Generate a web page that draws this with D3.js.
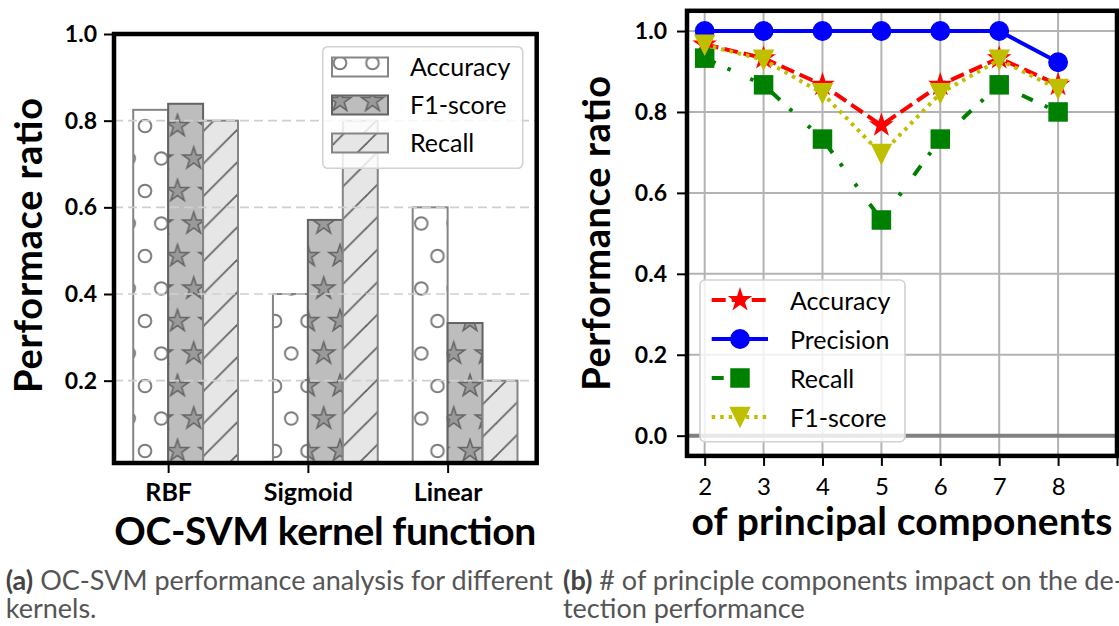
<!DOCTYPE html>
<html><head><meta charset="utf-8">
<script src="https://cdn.jsdelivr.net/npm/d3@7"></script>
<style>
body{margin:0;background:#fff}
svg{display:block}
</style>
</head><body>
<svg id="chart" width="1119" height="626"></svg>
<script>
// ---------- data: left panel (bar chart) ----------
const kernels = ["RBF", "Sigmoid", "Linear"];
const barSeriesNames = ["Accuracy", "F1-score", "Recall"];
const barAccuracy = [0.825, 0.4, 0.6];
const barF1 = [0.839, 0.571, 0.333];
const barRecall = [0.8, 0.8, 0.2];
const leftYTicks = [0.2, 0.4, 0.6, 0.8, 1.0];

// ---------- data: right panel (line chart) ----------
const components = [2, 3, 4, 5, 6, 7, 8];
const lineSeriesNames = ["Accuracy", "Precision", "Recall", "F1-score"];
const lineAccuracy = [0.967, 0.933, 0.867, 0.767, 0.867, 0.933, 0.867];
const linePrecision = [1.0, 1.0, 1.0, 1.0, 1.0, 1.0, 0.923];
const lineRecall = [0.933, 0.867, 0.733, 0.533, 0.733, 0.867, 0.8];
const lineF1 = [0.966, 0.929, 0.846, 0.696, 0.846, 0.929, 0.857];
const rightYTicks = [0.0, 0.2, 0.4, 0.6, 0.8, 1.0];
const rightXTicks = [2, 3, 4, 5, 6, 7, 8, 9];
const rightXTickLabels = ["2", "3", "4", "5", "6", "7", "8", ""];

// ---------- texts ----------
const leftYLabel = "Performace ratio";
const leftXLabel = "OC-SVM kernel function";
const rightYLabel = "Performance ratio";
const rightXLabel = "of principal components";
const captionA = ["(a)", " OC-SVM performance analysis for different", "kernels."];
const captionB = ["(b)", " # of principle components impact on the de-", "tection performance"];

const FONT = "Lato, 'DejaVu Sans', sans-serif";
const svg = d3.select("#chart");
const defs = svg.append("defs");

// ---------- hatch patterns ----------
const TILE = 32.5;
const gridPts = [[0,0],[TILE,0],[0,2*TILE],[TILE,2*TILE],[TILE/2,TILE]];
function starPath(cx, cy, R) {
  const r = R * 0.381966, pts = [];
  for (let k = 0; k < 10; k++) {
    const a = -Math.PI/2 + k*Math.PI/5, rad = k % 2 ? r : R;
    pts.push([cx + rad*Math.cos(a), cy + rad*Math.sin(a)]);
  }
  return "M" + pts.map(p => p.join(",")).join("L") + "Z";
}
const pO = defs.append("pattern").attr("id","hatchO").attr("patternUnits","userSpaceOnUse")
  .attr("x",15).attr("y",61).attr("width",TILE).attr("height",2*TILE);
gridPts.forEach(p => pO.append("circle").attr("cx",p[0]).attr("cy",p[1]).attr("r",6.3)
  .attr("fill","none").attr("stroke","#7c7c7c").attr("stroke-width",2));
const pS = defs.append("pattern").attr("id","hatchStar").attr("patternUnits","userSpaceOnUse")
  .attr("x",15).attr("y",61).attr("width",TILE).attr("height",2*TILE);
gridPts.forEach(p => pS.append("path").attr("d",starPath(p[0],p[1],11.5))
  .attr("fill","#9a9a9a").attr("stroke","#666").attr("stroke-width",1.6).attr("stroke-linejoin","miter"));
const pL = defs.append("pattern").attr("id","hatchSlash").attr("patternUnits","userSpaceOnUse")
  .attr("x",9.5).attr("y",0).attr("width",TILE).attr("height",TILE);
[[-5,TILE+5,TILE+5,-5],[-5,5,5,-5],[TILE-5,TILE+5,TILE+5,TILE-5]].forEach(l =>
  pL.append("line").attr("x1",l[0]).attr("y1",l[1]).attr("x2",l[2]).attr("y2",l[3])
    .attr("stroke","#666").attr("stroke-width",1.8));

function styleAxis(g, size, weight) {
  g.select(".domain").remove();
  g.selectAll(".tick line").attr("stroke","#000").attr("stroke-width",2);
  g.selectAll(".tick text").attr("font-family",FONT).attr("font-size",size)
    .attr("font-weight",weight).attr("fill","#000");
}

// =================== LEFT PANEL ===================
const L = {x0:114, x1:536.7, y0:34, y1:463};
const xL = d3.scaleLinear().domain([-0.3875, 2.6375]).range([L.x0, L.x1]);
const yL = d3.scaleLinear().domain([0.01, 1.0]).range([L.y1, L.y0]);
defs.append("clipPath").attr("id","clipL").append("rect")
  .attr("x",L.x0).attr("y",L.y0).attr("width",L.x1-L.x0).attr("height",L.y1-L.y0);

const barStyles = [
  {values: barAccuracy, off: -0.25, fill: "#ffffff", pat: "hatchO", stroke: "#858585"},
  {values: barF1, off: 0, fill: "#bdbdbd", pat: "hatchStar", stroke: "#636363"},
  {values: barRecall, off: 0.25, fill: "#e6e6e6", pat: "hatchSlash", stroke: "#858585"}
];
const BW = 0.25;
const gBars = svg.append("g").attr("clip-path","url(#clipL)");
barStyles.forEach(s => {
  const g = gBars.append("g");
  const sel = g.selectAll("g").data(s.values).join("g");
  const rx = (d,i) => xL(i + s.off), rw = (d,i) => xL(i + s.off + BW) - xL(i + s.off);
  sel.append("rect").attr("x",rx).attr("width",rw).attr("y",d => yL(d)).attr("height",d => yL(0) - yL(d)).attr("fill",s.fill);
  sel.append("rect").attr("x",rx).attr("width",rw).attr("y",d => yL(d)).attr("height",d => yL(0) - yL(d)).attr("fill",`url(#${s.pat})`);
  sel.append("rect").attr("x",rx).attr("width",rw).attr("y",d => yL(d)).attr("height",d => yL(0) - yL(d))
    .attr("fill","none").attr("stroke",s.stroke).attr("stroke-width",2);
});
// grid (drawn above bars)
svg.append("g").selectAll("line").data(leftYTicks.filter(d => d < 1)).join("line")
  .attr("x1",L.x0).attr("x2",L.x1).attr("y1",d => yL(d)).attr("y2",d => yL(d))
  .attr("stroke","#cfcfcf").attr("stroke-width",1.6).attr("stroke-dasharray","9,5");
// axes
const gLy = svg.append("g").attr("transform",`translate(${L.x0},0)`)
  .call(d3.axisLeft(yL).tickValues(leftYTicks).tickFormat(d3.format(".1f")).tickSize(10).tickPadding(7));
styleAxis(gLy, 23, 700);
const gLx = svg.append("g").attr("transform",`translate(0,${L.y1})`)
  .call(d3.axisBottom(xL).tickValues([0,1,2]).tickFormat(i => kernels[i]).tickSize(10));
styleAxis(gLx, 25, 700);
gLx.selectAll(".tick text").attr("y",38).attr("dy",0);
// spines
svg.append("rect").attr("x",L.x0).attr("y",L.y0).attr("width",L.x1-L.x0).attr("height",L.y1-L.y0)
  .attr("fill","none").attr("stroke","#000").attr("stroke-width",4.5);
// legend
svg.append("rect").attr("x",322.7).attr("y",46.7).attr("width",200).attr("height",121.6).attr("rx",5)
  .attr("fill","#fff").attr("fill-opacity",0.82).attr("stroke","#d2d2d2").attr("stroke-width",1.6);
const legL = svg.append("g").selectAll("g").data(barSeriesNames).join("g")
  .attr("transform",(d,i) => `translate(0,${67 + i*38})`);
legL.append("rect").attr("x",332).attr("y",-9.5).attr("width",56).attr("height",19).attr("fill",(d,i) => barStyles[i].fill);
legL.append("rect").attr("x",332).attr("y",-9.5).attr("width",56).attr("height",19).attr("fill",(d,i) => `url(#${barStyles[i].pat})`);
legL.append("rect").attr("x",332).attr("y",-9.5).attr("width",56).attr("height",19).attr("fill","none")
  .attr("stroke",(d,i) => barStyles[i].stroke).attr("stroke-width",2);
legL.append("text").attr("x",410).attr("y",9).text(d => d)
  .attr("font-family",FONT).attr("font-size",25).attr("fill","#000");
// labels
svg.append("text").attr("transform",`translate(42,${(L.y0+L.y1)/2 - 3}) rotate(-90)`).attr("text-anchor","middle")
  .attr("font-family",FONT).attr("font-size",38).attr("font-weight",700).attr("textLength",295).attr("lengthAdjust","spacing").text(leftYLabel);
svg.append("text").attr("x",(L.x0+L.x1)/2).attr("y",545).attr("text-anchor","middle")
  .attr("font-family",FONT).attr("font-size",39).attr("font-weight",700).attr("textLength",422).attr("lengthAdjust","spacing").text(leftXLabel);

// =================== RIGHT PANEL ===================
const R = {x0:687, x1:1117, y0:10.8, y1:455.9};
const xR = d3.scaleLinear().domain([1.7, 9.0]).range([R.x0, R.x1]);
const yR = d3.scaleLinear().domain([-0.05, 1.05]).range([R.y1, R.y0]);
// grid
const gGrid = svg.append("g").attr("stroke","#b3b3b3").attr("stroke-width",2);
gGrid.selectAll("line.v").data(components).join("line").attr("class","v")
  .attr("x1",d => xR(d)).attr("x2",d => xR(d)).attr("y1",R.y0).attr("y2",R.y1);
gGrid.selectAll("line.h").data(rightYTicks).join("line").attr("class","h")
  .attr("x1",R.x0).attr("x2",R.x1).attr("y1",d => yR(d)).attr("y2",d => yR(d));
// axhline at 0
svg.append("line").attr("x1",R.x0).attr("x2",R.x1).attr("y1",yR(0)).attr("y2",yR(0))
  .attr("stroke","#808080").attr("stroke-width",4);

const lineStyles = [
  {values: lineAccuracy, color: "#ff0000", dash: "14,6", marker: "star"},
  {values: linePrecision, color: "#0000ff", dash: null, marker: "circle"},
  {values: lineRecall, color: "#008000", dash: "12,13,3.5,21.5,3.5,21.5", marker: "square"},
  {values: lineF1, color: "#bfbf00", dash: "3.5,5", marker: "tri"}
];
function drawMarker(g, type, cx, cy, color) {
  if (type === "star") g.append("path").attr("d",starPath(cx,cy,10.5)).attr("fill",color).attr("stroke",color).attr("stroke-width",1.5);
  else if (type === "circle") g.append("circle").attr("cx",cx).attr("cy",cy).attr("r",9.2).attr("fill",color).attr("stroke",color).attr("stroke-width",1.5);
  else if (type === "square") g.append("rect").attr("x",cx-9).attr("y",cy-9).attr("width",18).attr("height",18).attr("fill",color).attr("stroke",color).attr("stroke-width",1.5);
  else g.append("path").attr("d",`M${cx-9.5},${cy-9.5}L${cx+9.5},${cy-9.5}L${cx},${cy+9.5}Z`).attr("fill",color).attr("stroke",color).attr("stroke-width",1.5);
}
const lineGen = d3.line().x((d,i) => xR(components[i])).y(d => yR(d));
lineStyles.forEach(s => {
  const g = svg.append("g");
  g.append("path").attr("d",lineGen(s.values)).attr("fill","none").attr("stroke",s.color)
    .attr("stroke-width",4).attr("stroke-dasharray",s.dash).attr("stroke-linejoin","round");
  s.values.forEach((v,i) => drawMarker(g, s.marker, xR(components[i]), yR(v), s.color));
});
// axes
const gRy = svg.append("g").attr("transform",`translate(${R.x0},0)`)
  .call(d3.axisLeft(yR).tickValues(rightYTicks).tickFormat(d3.format(".1f")).tickSize(10).tickPadding(10));
styleAxis(gRy, 23, 700);
const gRx = svg.append("g").attr("transform",`translate(0,${R.y1})`)
  .call(d3.axisBottom(xR).tickValues(rightXTicks).tickFormat((d,i) => rightXTickLabels[i]).tickSize(10));
styleAxis(gRx, 24, 400);
gRx.selectAll(".tick text").attr("y",39).attr("dy",0);
// spines
svg.append("rect").attr("x",R.x0).attr("y",R.y0).attr("width",R.x1-R.x0).attr("height",R.y1-R.y0)
  .attr("fill","none").attr("stroke","#000").attr("stroke-width",4.5);
// legend
svg.append("rect").attr("x",700).attr("y",280).attr("width",205).attr("height",161.7).attr("rx",5)
  .attr("fill","#fff").attr("fill-opacity",0.82).attr("stroke","#d2d2d2").attr("stroke-width",1.6);
const legR = svg.append("g").selectAll("g").data(lineSeriesNames).join("g")
  .attr("transform",(d,i) => `translate(0,${300 + i*39})`);
legR.each(function(d,i) {
  const g = d3.select(this), s = lineStyles[i];
  g.append("line").attr("x1",711.7).attr("x2",s.marker === "square" ? 758 : 768).attr("y1",0).attr("y2",0).attr("stroke",s.color)
    .attr("stroke-width",4).attr("stroke-dasharray",s.dash);
  drawMarker(g, s.marker, 740, 0, s.color);
  g.append("text").attr("x",790).attr("y",9.5).text(d)
    .attr("font-family",FONT).attr("font-size",25).attr("fill","#000");
});
// labels
svg.append("text").attr("transform",`translate(610,${(R.y0+R.y1)/2}) rotate(-90)`).attr("text-anchor","middle")
  .attr("font-family",FONT).attr("font-size",38).attr("font-weight",700).attr("textLength",315).attr("lengthAdjust","spacing").text(rightYLabel);
svg.append("text").attr("x",902).attr("y",535).attr("text-anchor","middle")
  .attr("font-family",FONT).attr("font-size",39).attr("font-weight",700).attr("textLength",421).attr("lengthAdjust","spacing").text(rightXLabel);

// =================== CAPTIONS ===================
const CAP = 27;
function caption(parts, x, anchor) {
  const t = svg.append("text").attr("x",x).attr("y",590).attr("text-anchor",anchor)
    .attr("font-family",FONT).attr("font-size",CAP).attr("fill","#555");
  t.append("tspan").attr("font-weight",700).attr("fill","#444").text(parts[0]);
  t.append("tspan").text(parts[1]);
  return t;
}
const capA = caption(captionA, 553, "end");
const ax = capA.node().getBBox().x;
svg.append("text").attr("x",ax).attr("y",618).attr("font-family",FONT).attr("font-size",CAP).attr("fill","#555").text(captionA[2]);
caption(captionB, 563, "start");
svg.append("text").attr("x",563).attr("y",618).attr("font-family",FONT).attr("font-size",CAP).attr("fill","#555").text(captionB[2]);
</script>
</body></html>
